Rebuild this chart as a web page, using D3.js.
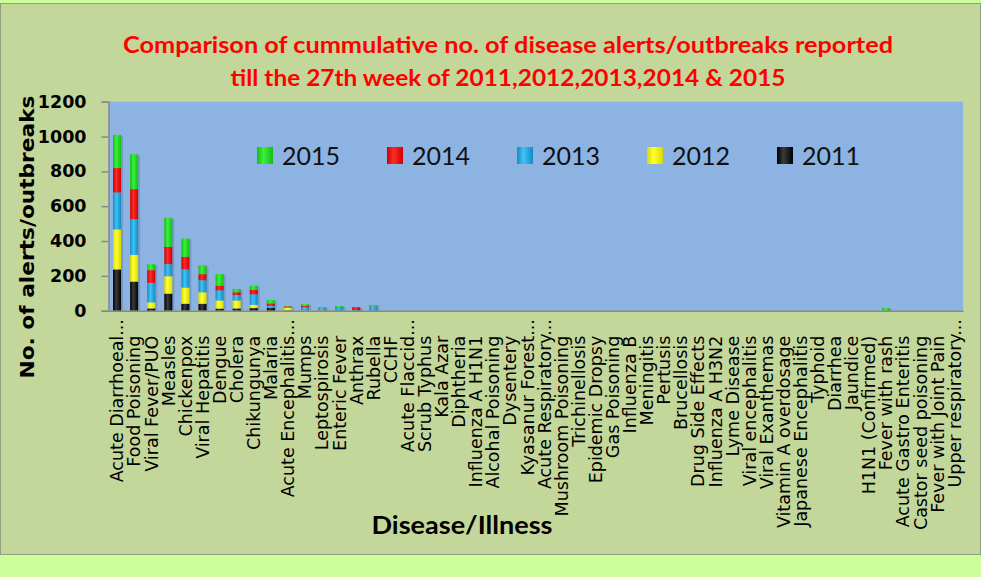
<!DOCTYPE html>
<html><head><meta charset="utf-8">
<script src="https://cdn.jsdelivr.net/npm/d3@7"></script>
<style>html,body{margin:0;padding:0;background:#ccff99;}svg{display:block;}</style>
</head><body>
<svg id="chart" width="981" height="577"></svg>
<script>
const categories = ["Acute Diarrhoeal...","Food Poisoning","Viral Fever/PUO","Measles","Chickenpox","Viral Hepatitis","Dengue","Cholera","Chikungunya","Malaria","Acute Encephalitis...","Mumps","Leptospirosis","Enteric Fever","Anthrax","Rubella","CCHF","Acute Flaccid...","Scrub Typhus","Kala Azar","Diphtheria","Influenza A H1N1","Alcohal Poisoning","Dysentery","Kyasanur Forest...","Acute Respiratory...","Mushroom Poisoning","Trichinellosis","Epidemic Dropsy","Gas Poisoning","Influenza B","Meningitis","Pertusis","Brucellosis","Drug Side Effects","Influenza A H3N2","Lyme Disease","Viral encephalitis","Viral Exanthemas","Vitamin A overdosage","Japanese Encephalitis","Typhoid","Diarrhea","Jaundice","H1N1 (Confirmed)","Fever with rash","Acute Gastro Enteritis","Castor seed poisoning","Fever with Joint Pain","Upper respiratory..."];
const v2011 = [237,167,13,98,40,40,12,13,15,18,2,0,2,0,2,0,0,0,0,0,0,0,0,0,0,0,0,0,0,0,0,0,0,0,0,0,0,0,0,0,0,0,0,0,0,0,0,0,0,0];
const v2012 = [230,154,35,100,93,66,47,46,19,2,15,0,2,0,0,0,0,0,0,0,0,0,0,0,0,0,0,0,0,0,0,0,0,0,0,0,0,0,0,0,0,0,0,0,0,0,0,0,0,0];
const v2013 = [212,204,112,69,104,69,58,31,60,8,2,20,14,20,2,24,0,0,0,0,0,0,0,0,0,0,0,0,0,0,0,0,0,0,0,0,0,0,0,0,0,0,0,0,0,0,0,0,0,0];
const v2014 = [140,173,73,100,73,35,27,16,25,14,6,8,1,2,16,1,0,0,0,0,0,0,0,0,0,0,0,0,0,0,0,0,0,0,0,0,0,0,0,0,0,0,0,0,0,0,0,0,0,0];
const v2015 = [190,200,34,166,104,50,66,19,25,20,2,10,1,5,0,8,0,0,0,0,0,0,0,0,0,0,0,0,0,0,0,0,0,0,0,0,0,0,0,0,0,0,0,0,0,15,0,0,0,0];
const years = ["2011","2012","2013","2014","2015"];
const legendOrder = ["2015","2014","2013","2012","2011"];
const yTicks = [0,200,400,600,800,1000,1200];
const titleLines = ["Comparison of cummulative no. of disease alerts/outbreaks reported","till the 27th week of 2011,2012,2013,2014 & 2015"];
const yTitle = "No. of alerts/outbreaks";
const xTitle = "Disease/Illness";

const colors = {"2011":["#000000","#3a3a3a"],"2012":["#d9d900","#ffff33"],"2013":["#1489c4","#3fc3f5"],"2014":["#cc0000","#ff2a2a"],"2015":["#10c010","#3cf03c"]};
const valuesByYear = {"2011":v2011,"2012":v2012,"2013":v2013,"2014":v2014,"2015":v2015};

const svg = d3.select("#chart");
svg.append("rect").attr("x",0).attr("y",0).attr("width",981).attr("height",577).attr("fill","#ccff99");
svg.append("rect").attr("x",0.5).attr("y",3.5).attr("width",980).attr("height",551).attr("fill","#c4d79b").attr("stroke","#8f9f80");

const defs = svg.append("defs");
Object.entries(colors).forEach(([k,[dark,light]])=>{
  const g = defs.append("linearGradient").attr("id","g"+k).attr("x1","0").attr("x2","1").attr("y1","0").attr("y2","0");
  g.append("stop").attr("offset","0%").attr("stop-color",dark);
  g.append("stop").attr("offset","40%").attr("stop-color",light);
  g.append("stop").attr("offset","100%").attr("stop-color",dark);
});

const plot = {left:108.5, right:963, top:101.7, bottom:310.7};
const x = d3.scaleBand().domain(categories).range([plot.left, plot.right]).paddingInner(0.53).paddingOuter(0.265);
const y = d3.scaleLinear().domain([0,1200]).range([plot.bottom, plot.top]);

svg.append("rect").attr("x",plot.left).attr("y",plot.top).attr("width",plot.right-plot.left).attr("height",plot.bottom-plot.top).attr("fill","#8db3e2");

svg.selectAll("text.title").data(titleLines).join("text").attr("class","title")
  .attr("x",508).attr("y",(d,i)=>53+i*33).attr("text-anchor","middle")
  .attr("font-family","Lato").attr("font-weight","bold").attr("font-size",22).attr("fill","#ff0000")
  .attr("textLength",(d,i)=>i===0?770:555).attr("lengthAdjust","spacingAndGlyphs").text(d=>d);

const table = categories.map((c,i)=>{
  const row = {cat:c};
  years.forEach(k=>row[k]=valuesByYear[k][i]);
  return row;
});
const series = d3.stack().keys(years)(table);
const total = d=>years.reduce((s,k)=>s+d[k],0);

svg.append("g").selectAll("rect").data(table.filter(d=>total(d)>0)).join("rect")
  .attr("x",d=>x(d.cat)+2).attr("width",x.bandwidth())
  .attr("y",d=>y(total(d))+1).attr("height",d=>plot.bottom-y(total(d))-1)
  .attr("fill","#5a7fae").attr("opacity",0.45);

svg.append("g").selectAll("g").data(series).join("g").attr("fill",s=>`url(#g${s.key})`)
  .selectAll("rect").data(s=>s.filter(d=>d[1]-d[0]>0)).join("rect")
  .attr("x",d=>x(d.data.cat)).attr("width",x.bandwidth())
  .attr("y",d=>y(d[1])).attr("height",d=>y(d[0])-y(d[1]));

const yAxis = svg.append("g").attr("transform",`translate(${plot.left},0)`)
  .call(d3.axisLeft(y).tickValues(yTicks).tickSize(7).tickPadding(15).tickFormat(d3.format("d")));
yAxis.select(".domain").attr("stroke","#888").attr("stroke-width",1.5);
yAxis.selectAll(".tick line").attr("stroke","#888").attr("stroke-width",1.5);
yAxis.selectAll("text").attr("font-family","DejaVu Sans").attr("font-weight","bold").attr("font-size",17.5).attr("fill","#000");

const xAxis = svg.append("g").attr("transform",`translate(0,${plot.bottom})`)
  .call(d3.axisBottom(x).tickSize(0).tickPadding(0));
xAxis.select(".domain").attr("stroke","#888").attr("stroke-width",1.5);
xAxis.selectAll(".tick text")
  .attr("font-family","DejaVu Sans").attr("font-size",17.5).attr("fill","#000")
  .attr("text-anchor","end").attr("transform","rotate(-90)")
  .attr("x",-25).attr("y",0).attr("dy","0.36em")
  .attr("dx",d=>d.endsWith("...")?"0.95em":"0");

svg.append("text").attr("transform","translate(34,237) rotate(-90)").attr("text-anchor","middle")
  .attr("font-family","DejaVu Sans").attr("font-weight","bold").attr("font-size",20)
  .attr("textLength",283).attr("lengthAdjust","spacingAndGlyphs").text(yTitle);
svg.append("text").attr("x",462).attr("y",534).attr("text-anchor","middle")
  .attr("font-family","Lato").attr("font-weight","bold").attr("font-size",24)
  .attr("textLength",181).attr("lengthAdjust","spacingAndGlyphs").text(xTitle);

const lx = d3.scalePoint().domain(legendOrder).range([257,777]);
const lg = svg.append("g").selectAll("g").data(legendOrder).join("g").attr("transform",d=>`translate(${lx(d)},147)`);
lg.append("rect").attr("width",16).attr("height",17).attr("fill",d=>`url(#g${d})`);
lg.append("text").attr("x",25).attr("y",17.5).attr("font-family","Lato").attr("font-size",25).attr("fill","#111").text(d=>d);
</script>
</body></html>
